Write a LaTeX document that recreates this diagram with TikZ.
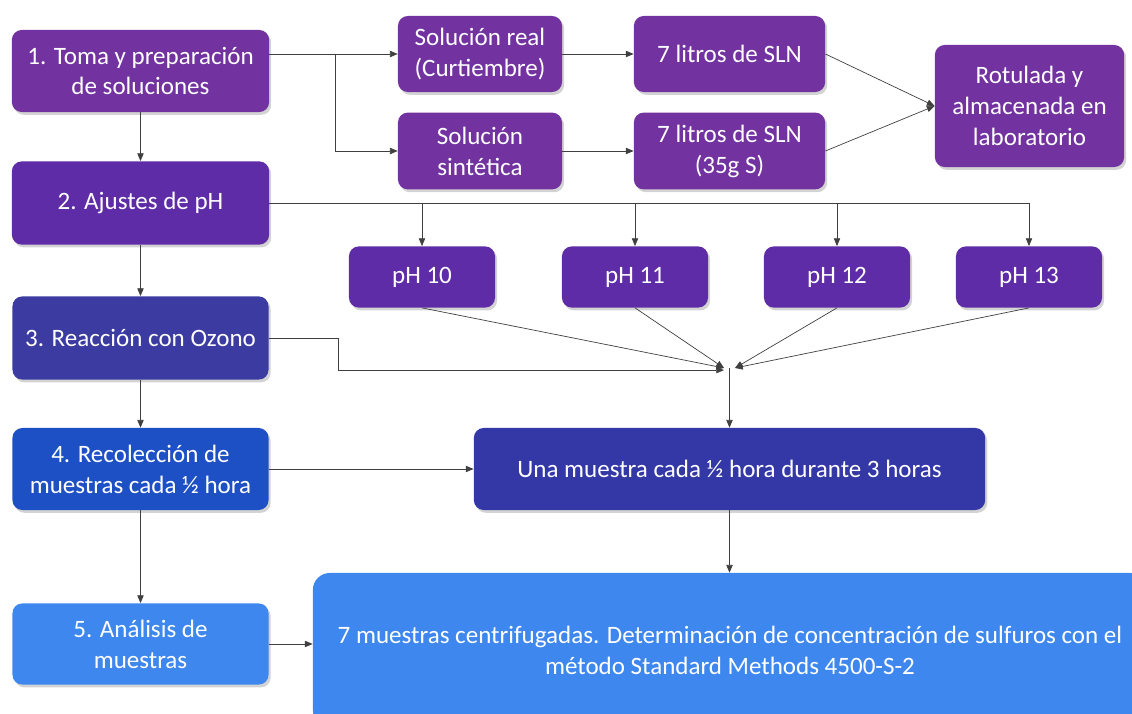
\documentclass[tikz,border=0pt]{standalone}
\usepackage{fontspec}
\setmainfont{Carlito}
\usetikzlibrary{arrows.meta, shadows}

\definecolor{morado}{HTML}{7232A0}
\definecolor{violeta}{HTML}{5F2CA8}
\definecolor{indigo}{HTML}{3B3BA2}
\definecolor{anil}{HTML}{3338A6}
\definecolor{azul}{HTML}{1D50C4}
\definecolor{celeste}{HTML}{3D87EE}

\tikzset{
  caja/.style={rounded corners=7pt, text=white, align=center, inner sep=2pt,
    font=\fontsize{17.8}{22}\selectfont,
    drop shadow={shadow xshift=1.5pt, shadow yshift=-2pt, opacity=0.35}},
  flecha/.style={-{Triangle[length=5.5pt,width=4.5pt]}, draw=black!75, line width=0.5pt},
  linea/.style={draw=black!75, line width=0.5pt}
}

\begin{document}
\begin{tikzpicture}[x=0.025cm, y=-0.025cm]
\useasboundingbox (0,0) rectangle (1132,714);
\clip (0,0) rectangle (1132,714);
% pasos, columna izquierda
\node[caja, fill=morado, minimum width=6.43cm, minimum height=2.05cm] (toma) at (140.5,71) {1. Toma y preparación\\de soluciones};
\node[caja, fill=violeta, minimum width=6.43cm, minimum height=2.08cm] (ajuste) at (140.5,203) {2. Ajustes de pH};
\node[caja, fill=indigo, minimum width=6.4cm, minimum height=2.08cm] (reaccion) at (140.5,338) {3. Reacción con Ozono};
\node[caja, fill=azul, minimum width=6.4cm, minimum height=2.05cm] (reco) at (140.5,469) {4. Recolección de\\muestras cada ½ hora};
\node[caja, fill=celeste, minimum width=6.4cm, minimum height=2.03cm] (analisis) at (140.5,644) {5. Análisis de\\muestras};
% soluciones
\node[caja, fill=morado, minimum width=4.1cm, minimum height=1.9cm] (solreal) at (480,54) {Solución real\\(Curtiembre)};
\node[caja, fill=morado, minimum width=4.1cm, minimum height=1.92cm] (solsint) at (480,151) {Solución\\sintética};
\node[caja, fill=morado, minimum width=4.78cm, minimum height=1.9cm] (litros) at (729.5,54) {7 litros de SLN};
\node[caja, fill=morado, minimum width=4.78cm, minimum height=1.92cm] (litross) at (729.5,151) {7 litros de SLN\\(35g S)};
\node[caja, fill=morado, minimum width=4.73cm, minimum height=3.05cm] (rotulada) at (1029.5,106) {Rotulada y\\almacenada en\\laboratorio};
% valores de pH
\node[caja, fill=violeta, minimum width=3.65cm, minimum height=1.53cm] (ph10) at (422,277) {pH 10};
\node[caja, fill=violeta, minimum width=3.65cm, minimum height=1.53cm] (ph11) at (635,277) {pH 11};
\node[caja, fill=violeta, minimum width=3.65cm, minimum height=1.53cm] (ph12) at (837,277) {pH 12};
\node[caja, fill=violeta, minimum width=3.65cm, minimum height=1.53cm] (ph13) at (1029,277) {pH 13};
% muestras
\node[caja, fill=anil, minimum width=12.78cm, minimum height=2.05cm] (una) at (729.5,469) {Una muestra cada ½ hora durante 3 horas};
\node[caja, fill=celeste, rounded corners=12pt, minimum width=20.85cm, minimum height=3.85cm] (siete) at (730,650) {7 muestras centrifugadas. Determinación de concentración de sulfuros con el\\método Standard Methods 4500-S-2};

% puntos de union
\coordinate (rama) at (335,54);
\coordinate (jizq) at (724,368);
\coordinate (jder) at (735,368);

% 1 -> soluciones
\draw[flecha] (toma.east |- solreal.west) -- (solreal.west);
\draw[flecha] (rama) |- (solsint.west);
\draw[flecha] (solreal.east) -- (litros.west);
\draw[flecha] (solsint.east) -- (litross.west);
\draw[flecha] (litros.east) -- (rotulada.west);
\draw[flecha] (litross.east) -- (rotulada.west);
% columna izquierda
\draw[flecha] (toma.south) -- (ajuste.north);
\draw[flecha] (ajuste.south) -- (reaccion.north);
\draw[flecha] (reaccion.south) -- (reco.north);
\draw[flecha] (reco.south) -- (analisis.north);
% 2 -> pH
\draw[linea] (ajuste.east) -- (ajuste.east -| ph13.north);
\foreach \n in {10,11,12,13}
  \draw[flecha] (ajuste.east -| ph\n.north) -- (ph\n.north);
% pH y ozono -> muestras
\draw[flecha] (ph10.south) -- (jizq);
\draw[flecha] (ph11.south) -- (jizq);
\draw[flecha] (ph12.south) -- (jder);
\draw[flecha] (ph13.south) -- (jder);
\draw[flecha] (reaccion.east) -- ++(70,0) |- ([yshift=-1.5]jizq);
\draw[flecha] (una.north |- jizq) -- (una.north);
\draw[flecha] (reco.east) -- (una.west);
\draw[flecha] (una.south) -- (una.south |- siete.north);
\draw[flecha] (analisis.east) -- (analisis.east -| siete.west);
\end{tikzpicture}
\end{document}
